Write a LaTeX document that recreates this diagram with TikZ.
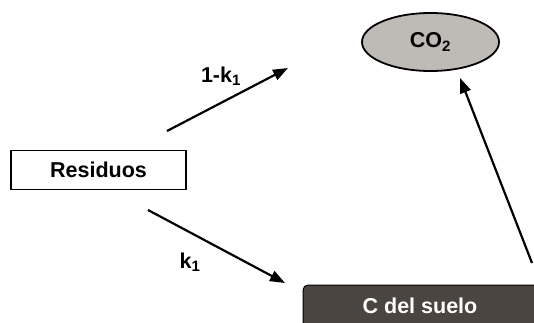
\documentclass[tikz,border=0pt]{standalone}
\usepackage{fontspec}
\setmainfont{Liberation Sans}
\usetikzlibrary{shapes.geometric,arrows.meta}
\begin{document}
\begin{tikzpicture}[x=1pt,y=1pt,
  lbl/.style={font=\bfseries\fontsize{21.5}{24}\selectfont},
  flow/.style={line width=2.2pt,-{Triangle[length=15pt,width=11pt]}}]
\useasboundingbox (0,0) rectangle (534,322);
% pools and inputs
\node[draw,line width=1.8pt,fill=white,minimum width=175pt,minimum height=39pt,lbl]
  (res) at (98.5,152) {Residuos};
\node[ellipse,draw,line width=1.8pt,fill={rgb,255:red,190;green,187;blue,182},
  minimum width=137pt,minimum height=58pt,inner sep=0pt,lbl]
  (co2) at (430.5,280) {CO\textsubscript{2}};
\begin{scope}
\clip (0,0) rectangle (534,322);
\path[draw=black,line width=1pt,fill={rgb,255:red,74;green,69;blue,64},rounded corners=5pt]
  (303,-10) -- (303,37) -- (545,37) -- (545,-10) -- cycle;
\end{scope}
\node[lbl,text=white] (soil) at (420,16) {C del suelo};
% fluxes
\coordinate (a1s) at (167,191);
\coordinate (a1e) at (288,254);
\coordinate (a2s) at (148,112);
\coordinate (a2e) at (285,39);
\coordinate (a3s) at (532,59);
\coordinate (a3e) at (460,244);
\draw[flow] (a1s) -- (a1e);
\draw[flow] (a2s) -- (a2e);
\draw[flow] (a3s) -- (a3e);
\node[lbl] (l1) at (221,246) {1-k\textsubscript{1}};
\node[lbl] (l2) at (190,60) {k\textsubscript{1}};
\end{tikzpicture}
\end{document}
